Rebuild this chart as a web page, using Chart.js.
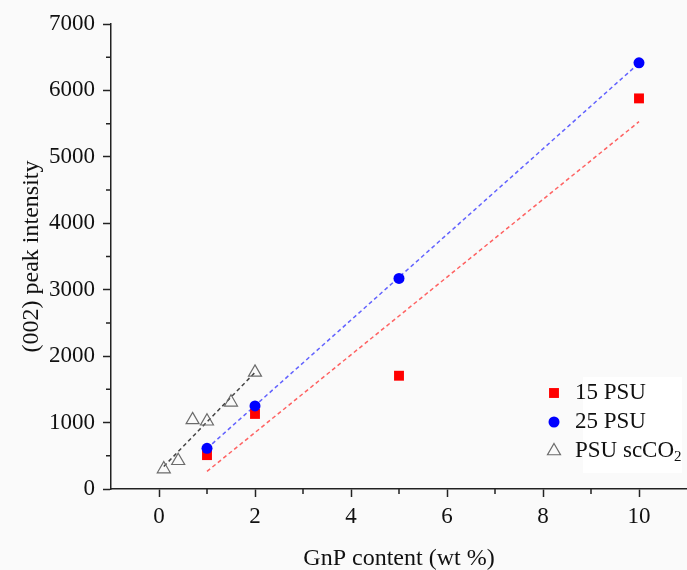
<!DOCTYPE html>
<html>
<head>
<meta charset="utf-8">
<title>(002) peak intensity vs GnP content</title>
<script src="https://cdn.jsdelivr.net/npm/chart.js@4.4.1/dist/chart.umd.min.js"></script>
<style>
  html, body { margin: 0; padding: 0; background: #fafafa; }
  #wrap { width: 687px; height: 570px; }
</style>
</head>
<body>
<div id="wrap"><canvas id="peakChart" width="687" height="570"></canvas></div>
<script>
// measured points
const xPsu15 = [1, 2, 5, 10];
const yPsu15 = [510, 1130, 1705, 5880];

const xPsu25 = [1, 2, 5, 10];
const yPsu25 = [612, 1250, 3170, 6415];

const xScco2 = [0.1, 0.4, 0.7, 1.0, 1.5, 2.0];
const yScco2 = [300, 425, 1040, 1020, 1305, 1755];

// dashed trend lines (end points)
const xFit15 = [1, 10];
const yFit15 = [265, 5530];
const xFit25 = [1, 10];
const yFit25 = [610, 6410];
const xFitCo2 = [0.1, 2.0];
const yFitCo2 = [340, 1755];

const legendText = ["15 PSU", "25 PSU", "PSU scCO"];
const legendSub = ["", "", "2"];

const serif = "'Liberation Serif', 'Times New Roman', serif";
const axisColor = "#222";

function toPoints(xs, ys) {
  return xs.map(function (x, i) {
    return { x: x, y: ys[i] };
  });
}

const backgroundPlugin = {
  id: "bg",
  beforeDraw(chart) {
    const ctx = chart.ctx;
    ctx.save();
    ctx.fillStyle = "#fafafa";
    ctx.fillRect(0, 0, chart.width, chart.height);
    ctx.restore();
  }
};

// short minor ticks between the labelled ones
const minorTickPlugin = {
  id: "minorTicks",
  afterDraw(chart) {
    const ctx = chart.ctx;
    const xs = chart.scales.x;
    const ys = chart.scales.y;
    ctx.save();
    ctx.strokeStyle = axisColor;
    ctx.lineWidth = 1.5;
    ctx.beginPath();
    for (let v = 500; v < 7000; v += 1000) {
      const py = ys.getPixelForValue(v);
      ctx.moveTo(xs.left - 5, py);
      ctx.lineTo(xs.left, py);
    }
    for (let v = 1; v <= 9; v += 2) {
      const px = xs.getPixelForValue(v);
      ctx.moveTo(px, ys.bottom);
      ctx.lineTo(px, ys.bottom + 5);
    }
    ctx.stroke();
    ctx.restore();
  }
};

const legendPlugin = {
  id: "insideLegend",
  afterDraw(chart) {
    const ctx = chart.ctx;
    ctx.save();
    ctx.fillStyle = "#ffffff";
    ctx.fillRect(583, 377, 99, 96);
    for (let i = 0; i < 3; i++) {
      const ds = chart.data.datasets[i];
      const y = 393 + i * 29;
      ctx.fillStyle = ds.backgroundColor;
      ctx.strokeStyle = ds.borderColor;
      ctx.lineWidth = ds.borderWidth;
      Chart.helpers.drawPoint(ctx, {
        pointStyle: ds.pointStyle,
        radius: ds.pointRadius,
        borderWidth: ds.borderWidth,
        rotation: 0
      }, 554, y);

      ctx.fillStyle = "#111";
      ctx.font = "23px " + serif;
      ctx.textBaseline = "middle";
      ctx.textAlign = "left";
      ctx.fillText(legendText[i], 575, y);
      if (legendSub[i]) {
        const w = ctx.measureText(legendText[i]).width;
        ctx.font = "15px " + serif;
        ctx.fillText(legendSub[i], 575 + w, y + 6);
      }
    }
    ctx.restore();
  }
};

const ctx = document.getElementById("peakChart").getContext("2d");

new Chart(ctx, {
  type: "scatter",
  data: {
    datasets: [
      {
        label: "15 PSU",
        data: toPoints(xPsu15, yPsu15),
        pointStyle: "rect",
        pointRadius: 7,
        backgroundColor: "#ff0000",
        borderColor: "#ff0000",
        borderWidth: 0,
        order: 1
      },
      {
        label: "25 PSU",
        data: toPoints(xPsu25, yPsu25),
        pointStyle: "circle",
        pointRadius: 5.5,
        backgroundColor: "#0000ff",
        borderColor: "#0000ff",
        borderWidth: 0,
        order: 0
      },
      {
        label: "PSU scCO2",
        data: toPoints(xScco2, yScco2),
        pointStyle: "triangle",
        pointRadius: 7.5,
        backgroundColor: "rgba(0,0,0,0)",
        borderColor: "#6b6b6b",
        borderWidth: 1.2,
        order: 2
      },
      {
        label: "fit 15",
        data: toPoints(xFit15, yFit15),
        showLine: true,
        pointRadius: 0,
        borderColor: "rgba(255,70,70,0.85)",
        borderWidth: 1.5,
        borderDash: [4, 3],
        order: 5
      },
      {
        label: "fit 25",
        data: toPoints(xFit25, yFit25),
        showLine: true,
        pointRadius: 0,
        borderColor: "rgba(70,70,255,0.85)",
        borderWidth: 1.5,
        borderDash: [4, 3],
        order: 5
      },
      {
        label: "fit scCO2",
        data: toPoints(xFitCo2, yFitCo2),
        showLine: true,
        pointRadius: 0,
        borderColor: "#444",
        borderWidth: 1.5,
        borderDash: [4, 3],
        order: 5
      }
    ]
  },
  options: {
    responsive: false,
    animation: false,
    events: [],
    layout: {
      autoPadding: false,
      padding: { top: 24, right: 0, left: 0, bottom: 0 }
    },
    plugins: {
      legend: { display: false },
      tooltip: { enabled: false }
    },
    scales: {
      x: {
        type: "linear",
        min: -1,
        max: 11,
        afterFit: function (s) {
          s.height = 81;
          s.paddingLeft = 0;
          s.paddingRight = 0;
        },
        border: { color: axisColor, width: 1.5 },
        grid: {
          drawOnChartArea: false,
          drawTicks: true,
          tickLength: 8,
          tickWidth: 1.5,
          tickColor: function (c) {
            const v = c.tick ? c.tick.value : 0;
            return (v >= 0 && v <= 10 && v % 2 === 0) ? axisColor : "rgba(0,0,0,0)";
          }
        },
        ticks: {
          stepSize: 1,
          autoSkip: false,
          maxRotation: 0,
          minRotation: 0,
          padding: 6,
          color: "#111",
          font: { family: serif, size: 23 },
          callback: function (v) {
            return (v >= 0 && v <= 10 && v % 2 === 0) ? v : "";
          }
        },
        title: {
          display: true,
          text: "GnP content (wt %)",
          color: "#111",
          font: { family: serif, size: 24, lineHeight: 1 },
          padding: { top: 0, bottom: -1 }
        }
      },
      y: {
        min: 0,
        max: 7000,
        afterFit: function (s) { s.width = 111; },
        border: { color: axisColor, width: 1.5 },
        grid: {
          drawOnChartArea: false,
          drawTicks: true,
          tickLength: 8,
          tickWidth: 1.5,
          tickColor: function (c) {
            const v = c.tick ? c.tick.value : 0;
            return v % 1000 === 0 ? axisColor : "rgba(0,0,0,0)";
          }
        },
        ticks: {
          stepSize: 500,
          autoSkip: false,
          padding: 8,
          color: "#111",
          font: { family: serif, size: 23 },
          callback: function (v) {
            return v % 1000 === 0 ? v : "";
          }
        },
        title: {
          display: true,
          text: "(002) peak intensity",
          color: "#111",
          font: { family: serif, size: 24 },
          padding: { top: 17, bottom: 0 }
        }
      }
    }
  },
  plugins: [backgroundPlugin, minorTickPlugin, legendPlugin]
});
</script>
</body>
</html>
